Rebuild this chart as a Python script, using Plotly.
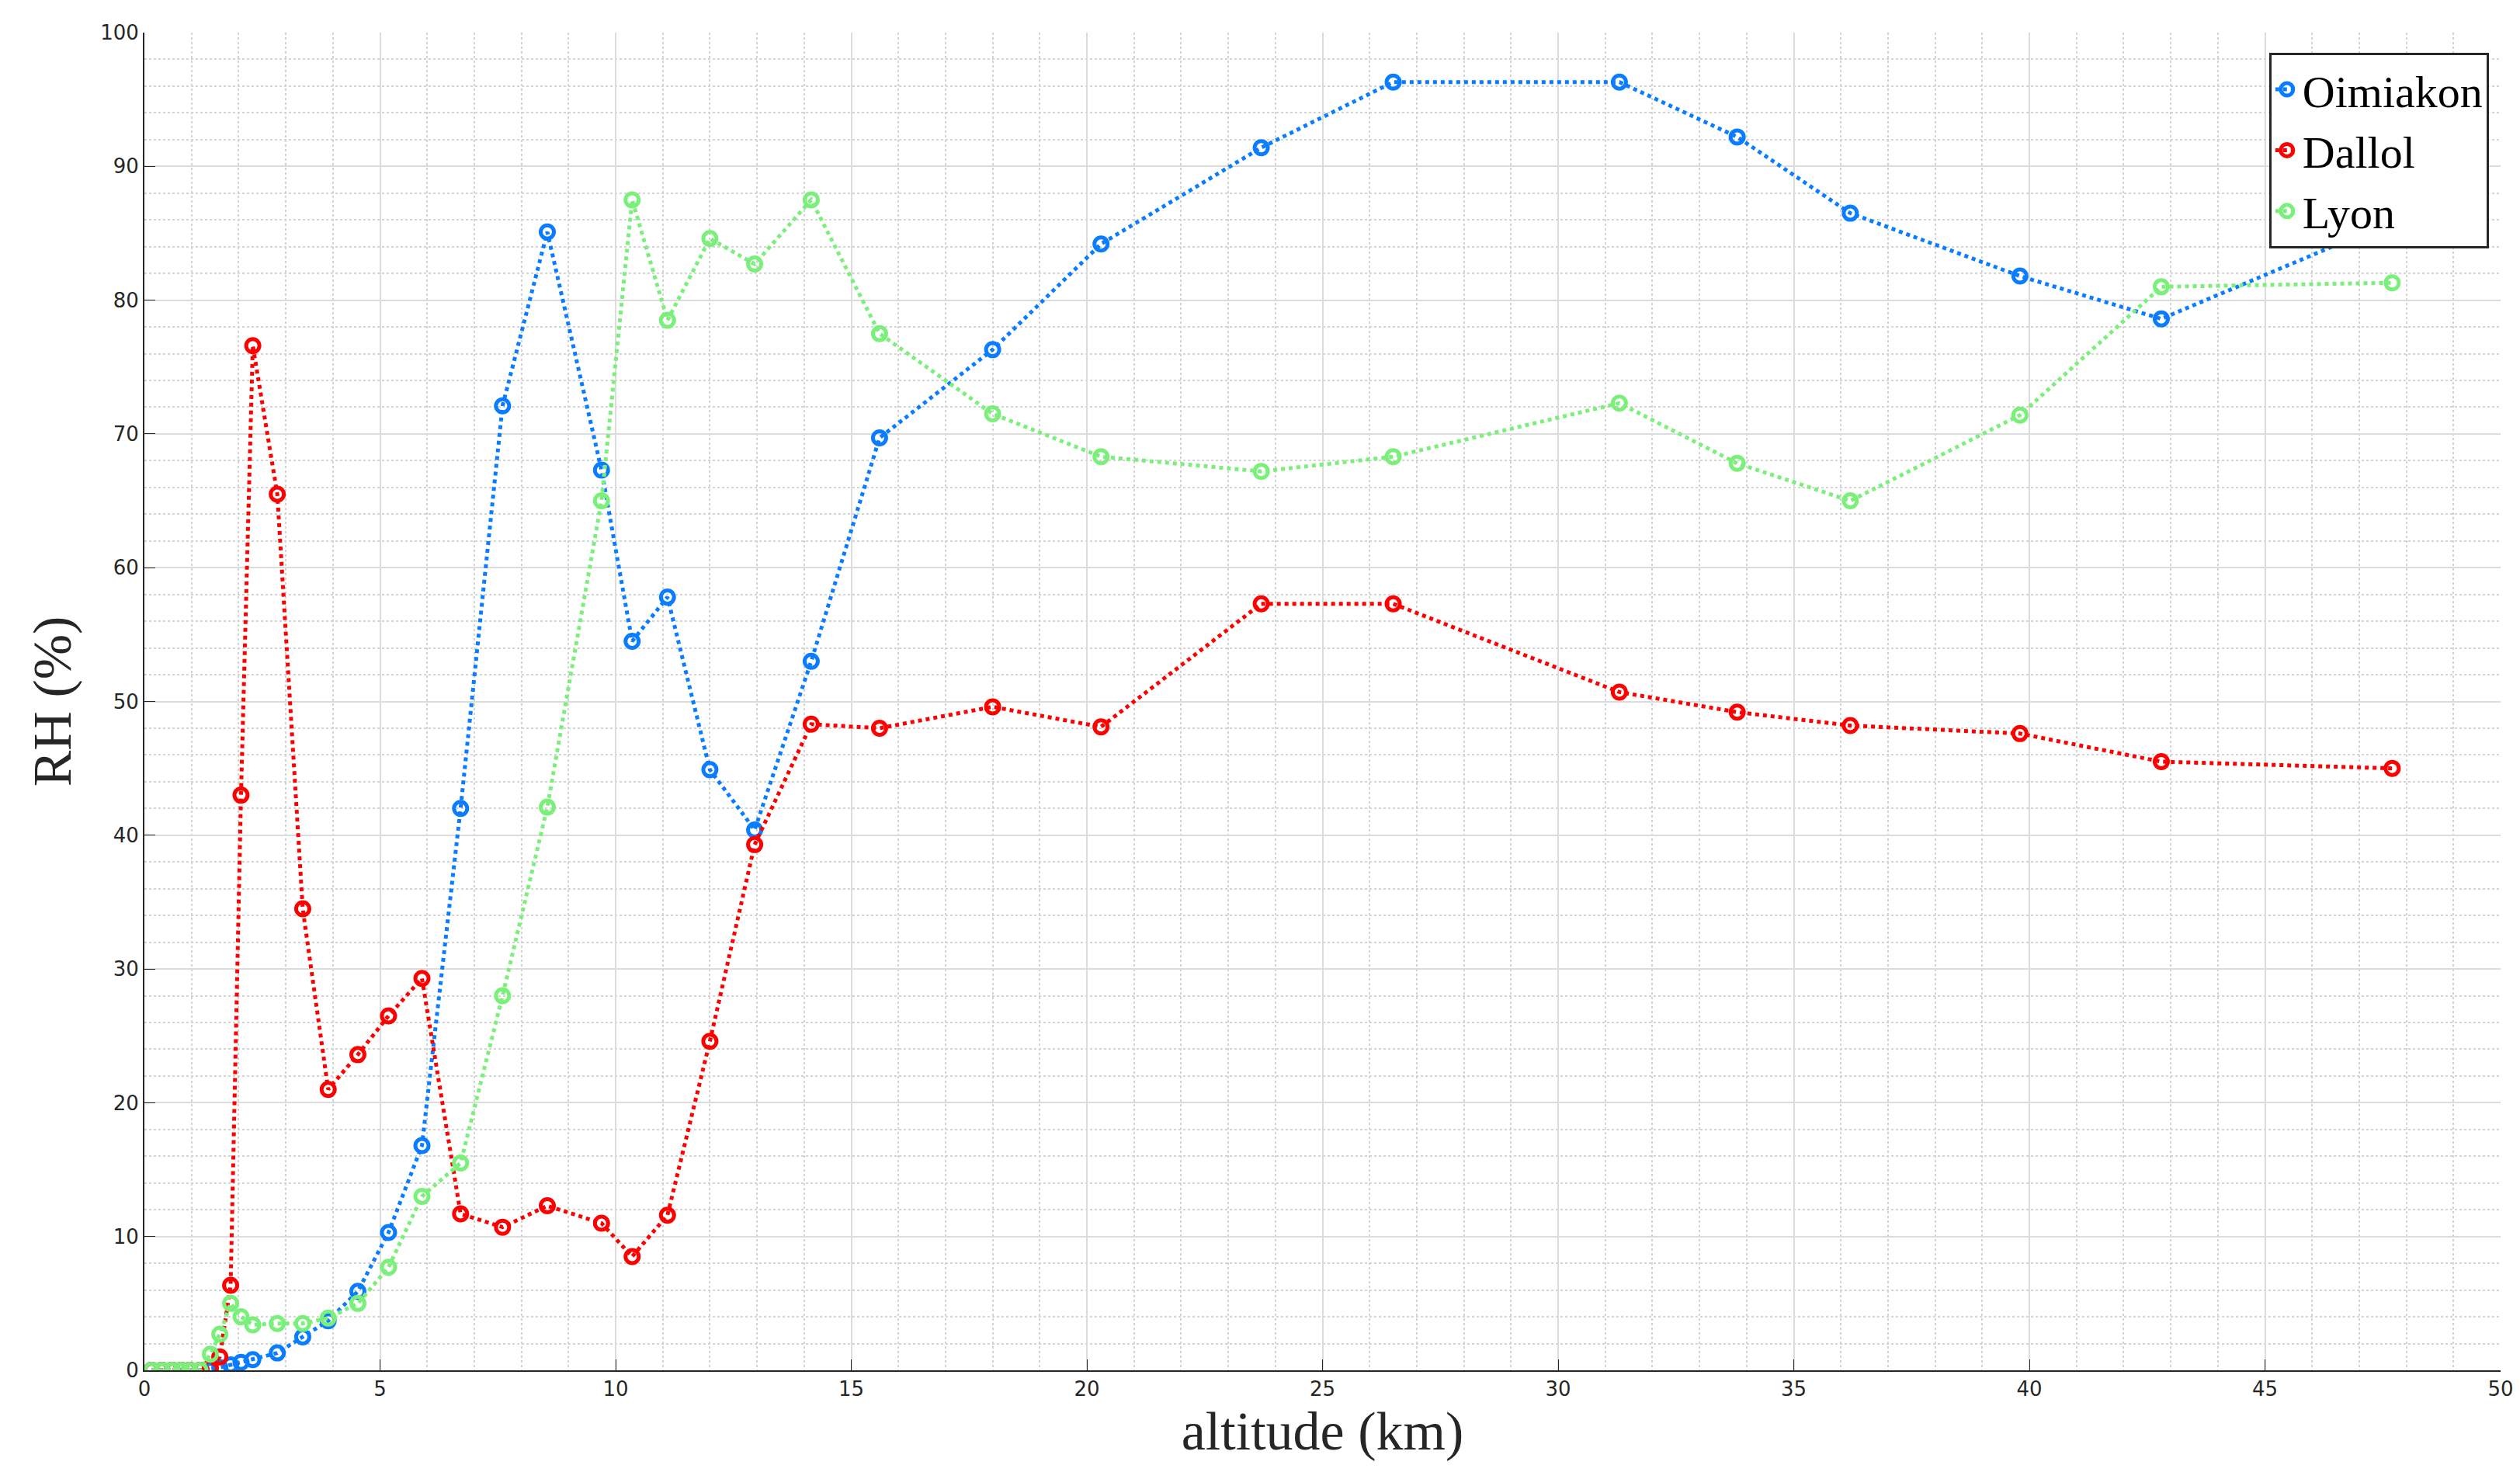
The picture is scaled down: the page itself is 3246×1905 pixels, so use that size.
import plotly.graph_objects as go

altitude = [0.15, 0.37, 0.59, 0.78, 0.96, 1.18, 1.4, 1.6, 1.83, 2.05, 2.3, 2.82, 3.36, 3.9, 4.53,
            5.18, 5.89, 6.71, 7.6, 8.55, 9.7, 10.35, 11.1, 12.0, 12.95, 14.15, 15.6, 18.0, 20.3,
            23.7, 26.5, 31.3, 33.8, 36.2, 39.8, 42.8, 47.7]
oimiakon = [0, 0, 0, 0, 0, 0, 0, 0.2, 0.4, 0.6, 0.8, 1.3, 2.5, 3.7, 5.9, 10.3, 16.8, 42, 72.1, 85.1,
            67.3, 54.5, 57.8, 44.9, 40.4, 53, 69.7, 76.3, 84.2, 91.4, 96.3, 96.3, 92.2, 86.5, 81.8,
            78.6, 85.9]
dallol = [0, 0, 0, 0, 0, 0, 0.2, 1.0, 6.35, 43, 76.6, 65.5, 34.5, 21, 23.6, 26.5, 29.3, 11.7, 10.7,
          12.3, 11, 8.5, 11.6, 24.6, 39.3, 48.3, 48, 49.6, 48.1, 57.3, 57.3, 50.7, 49.2, 48.2, 47.6,
          45.5, 45]
lyon = [0, 0, 0, 0, 0, 0, 1.2, 2.7, 5, 4, 3.4, 3.5, 3.5, 3.9, 5, 7.7, 13, 15.5, 28, 42.1, 65, 87.5,
        78.5, 84.6, 82.7, 87.5, 77.5, 71.5, 68.3, 67.2, 68.3, 72.3, 67.8, 65, 71.4, 81, 81.3]

series = [("Oimiakon", oimiakon, "#0a7cff"), ("Dallol", dallol, "#ff0000"), ("Lyon", lyon, "#7af07a")]

fig = go.Figure()
for name, vals, col in series:
    fig.add_trace(go.Scatter(
        x=altitude, y=vals, name=name, mode="lines+markers",
        line=dict(color=col, width=5, dash="dot"),
        marker=dict(symbol="circle-open", size=17, color=col, line=dict(width=5, color=col)),
    ))

axis = dict(
    showline=True, linecolor="#262626", linewidth=2, mirror=False,
    ticks="inside", ticklen=14, tickcolor="#262626",
    showgrid=True, gridcolor="#dcdcdc", gridwidth=2,
    minor=dict(showgrid=True, gridcolor="#d4d4d4", griddash="dot", gridwidth=1.5),
    tickfont=dict(family="DejaVu Sans", size=26, color="#262626"),
    zeroline=False,
)

fig.update_xaxes(axis, range=[0, 50], dtick=5, minor_dtick=1,
                 title=dict(text="altitude (km)", font=dict(family="Liberation Serif", size=70, color="#262626")))
fig.update_yaxes(axis, range=[0, 100], dtick=10, minor_dtick=2,
                 title=dict(text="RH (%)", font=dict(family="Liberation Serif", size=70, color="#262626")))

fig.update_layout(
    width=3246, height=1905,
    plot_bgcolor="white", paper_bgcolor="white",
    margin=dict(l=178, r=33, t=34, b=148),
    legend=dict(x=0.995, y=0.985, xanchor="right", yanchor="top",
                bgcolor="white", bordercolor="#262626", borderwidth=3,
                font=dict(family="Liberation Serif", size=58, color="black")),
)

fig.write_html("out.html")
